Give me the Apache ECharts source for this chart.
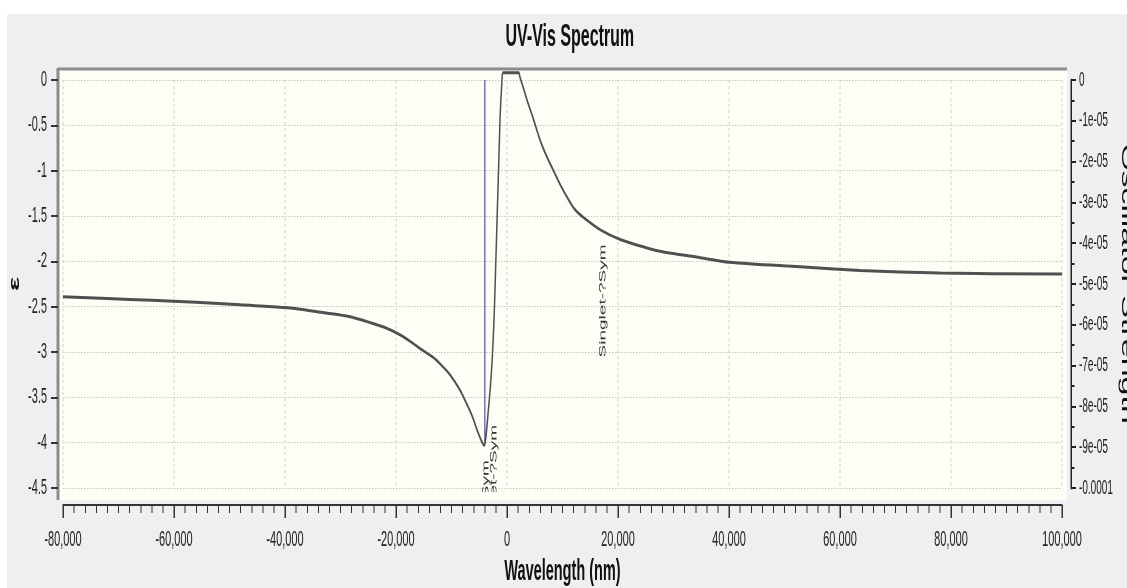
<!DOCTYPE html>
<html>
<head>
<meta charset="utf-8" />
<title>UV-Vis Spectrum</title>
<script src="https://cdn.jsdelivr.net/npm/echarts@6/dist/echarts.min.js"></script>
<style>
	* { margin: 0; padding: 0; }
	body { background: #fff; width: 1127px; height: 588px; overflow: hidden; }
	/* the source picture is squeezed to half its width: draw twice as wide, squeeze back */
	#chart { width: 2254px; height: 588px; transform: scaleX(0.5); transform-origin: 0 0; }
</style>
</head>
<body>
<div id="chart"></div>
<script>
// absorption curve (nm, epsilon)
var wavelength = [-80000, -72000, -64000, -56000, -48000, -40000, -34200, -28300, -25200, -22000,
	-19300, -17500, -15700, -13300, -12070, -10270, -8470, -7200, -6130, -5400,
	-4680, -4140, -3400, -2700, -2200, -1260, -900, -700, 2100,
	2340, 3060, 3600, 4700, 5950, 7200, 8300, 9550, 10800, 12250,
	14050, 16750, 20400, 24000, 27600, 34800, 40000, 52800, 63600, 78000, 100000];
var epsilon = [-2.39, -2.41, -2.43, -2.45, -2.48, -2.51, -2.555, -2.61, -2.665, -2.73,
	-2.81, -2.88, -2.96, -3.06, -3.13, -3.25, -3.42, -3.58, -3.73, -3.86,
	-3.97, -4.03, -3.67, -3.12, -2.39, -0.44, 0.0, 0.08, 0.08,
	0.03, -0.11, -0.22, -0.42, -0.66, -0.85, -0.99, -1.15, -1.29, -1.43,
	-1.53, -1.65, -1.76, -1.83, -1.89, -1.96, -2.01, -2.06, -2.10, -2.13, -2.14];

// oscillator strength sticks
var stickWavelength = [-4000];
var stickStrength = [-8.95e-5];

// excited state labels (anchor = start of the rotated text, in epsilon units)
var stateWavelength = [-3800, -2400, 17300];
var stateAnchor = [-5.44, -5.05, -3.06];
var stateName = ['Singlet-?Sym', 'Singlet-?Sym', 'Singlet-?Sym'];

var FONT = 'Liberation Sans';

function oscLabel(v) {
	if (Math.abs(v) < 1e-12) return '0';
	if (Math.abs(v) >= 9.99e-5) return String(+v.toPrecision(1));
	return v.toExponential(0).replace(/e([+-])(\d)$/, function (m, s, d) { return 'e' + s + '0' + d; });
}

var chart = echarts.init(document.getElementById('chart'));

chart.setOption({
	animation: false,
	backgroundColor: '#eeeff1',
	title: {
		text: 'UV-Vis Spectrum',
		left: 1006,
		top: 16,
		textStyle: { fontFamily: FONT, fontWeight: 'bold', fontSize: 32, color: '#111' }
	},
	graphic: [
		{ type: 'rect', shape: { x: 0, y: 0, width: 2254, height: 14 }, style: { fill: '#fff' }, z: -20 },
		{ type: 'rect', shape: { x: 0, y: 0, width: 14, height: 588 }, style: { fill: '#fff' }, z: -20 },
		{ type: 'rect', shape: { x: 116, y: 69, width: 2018, height: 431 }, style: { fill: '#fffef6' }, z: -10 },
		{ type: 'line', shape: { x1: 116, y1: 69, x2: 2134, y2: 69 }, style: { stroke: '#8c8c8c', lineWidth: 3 } },
		{ type: 'line', shape: { x1: 116, y1: 68, x2: 116, y2: 500 }, style: { stroke: '#8c8c8c', lineWidth: 6 } }
	],
	grid: { left: 126, right: 130, top: 80, bottom: 100, outerBoundsMode: 'none' },
	xAxis: {
		type: 'value',
		min: -80000,
		max: 100000,
		interval: 20000,
		offset: 17,
		name: 'Wavelength (nm)',
		nameLocation: 'middle',
		nameGap: 52,
		nameTextStyle: { fontFamily: FONT, fontWeight: 'bold', fontSize: 29, color: '#111' },
		axisLine: { onZero: false, lineStyle: { color: '#333', width: 2 } },
		axisTick: { length: 13, lineStyle: { color: '#333', width: 3 } },
		minorTick: { show: true, splitNumber: 10, length: 8, lineStyle: { color: '#333', width: 2 } },
		axisLabel: { fontFamily: FONT, fontSize: 22, color: '#222', margin: 24 },
		splitLine: { show: true, lineStyle: { color: '#d2d2cc', width: 2, type: [3, 3] } }
	},
	yAxis: [
		{
			type: 'value',
			min: -4.5,
			max: 0,
			interval: 0.5,
			offset: 10,
			name: 'ε',
			nameLocation: 'middle',
			nameGap: 70,
			nameTextStyle: { fontFamily: FONT, fontWeight: 'bold', fontSize: 30, color: '#111' },
			axisLine: { show: false, onZero: false },
			axisTick: { show: true, length: 14, lineStyle: { color: '#333', width: 2 } },
			axisLabel: { fontFamily: FONT, fontSize: 22, color: '#222', margin: 22 },
			splitLine: { show: true, lineStyle: { color: '#c6c6bf', width: 1, type: [3, 3] } }
		},
		{
			type: 'value',
			position: 'right',
			min: -1e-4,
			max: 0,
			interval: 1e-5,
			offset: 18,
			name: 'Oscillator Strength',
			nameLocation: 'middle',
			nameRotate: -90,
			nameGap: 94,
			nameTextStyle: { fontFamily: FONT, fontSize: 34, color: '#111' },
			axisLine: { show: true, onZero: false, lineStyle: { color: '#222', width: 3 } },
			axisTick: { length: 10, lineStyle: { color: '#222', width: 2 } },
			minorTick: { show: true, splitNumber: 2, length: 7, lineStyle: { color: '#222', width: 2 } },
			axisLabel: { fontFamily: FONT, fontSize: 20, color: '#222', margin: 16, formatter: oscLabel },
			splitLine: { show: false }
		}
	],
	series: [
		{
			type: 'line',
			data: wavelength.map(function (w, i) { return [w, epsilon[i]]; }),
			showSymbol: false,
			smooth: 0.3,
			clip: false,
			lineStyle: { color: '#505050', width: 3 },
			z: 3
		},
		{
			type: 'bar',
			yAxisIndex: 1,
			data: stickWavelength.map(function (w, i) { return [w, stickStrength[i]]; }),
			barWidth: 3,
			itemStyle: { color: '#6f6fd0' },
			z: 2
		},
		{
			type: 'custom',
			clip: false,
			data: stateWavelength.map(function (w, i) { return [w, stateAnchor[i]]; }),
			renderItem: function (params, api) {
				var p = api.coord([api.value(0), api.value(1)]);
				var cs = params.coordSys;
				return {
					type: 'group',
					clipPath: { type: 'rect', shape: { x: cs.x - 10, y: cs.y - 11, width: cs.width + 20, height: cs.height + 15 } },
					children: [{
						type: 'text',
						x: p[0],
						y: p[1],
						rotation: Math.PI / 2,
						style: {
							text: stateName[params.dataIndex],
							fontFamily: FONT,
							fontSize: 19,
							fill: '#333',
							align: 'left',
							verticalAlign: 'middle'
						}
					}]
				};
			},
			z: 4
		}
	]
});
</script>
</body>
</html>
